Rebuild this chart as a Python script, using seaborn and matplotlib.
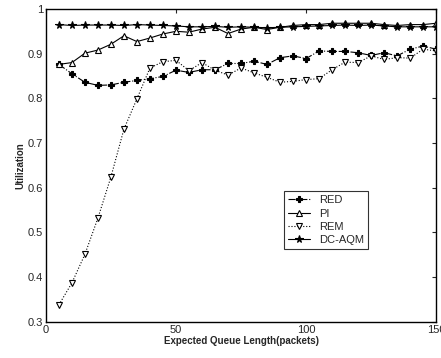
import numpy as np
import pandas as pd
import matplotlib
matplotlib.use("Agg")
import matplotlib.pyplot as plt
import seaborn as sns

# Expected queue length (packets)
queue_len = list(range(5, 155, 5))

red = [0.876, 0.855, 0.836, 0.829, 0.830, 0.836, 0.840, 0.844, 0.849, 0.863,
       0.858, 0.864, 0.864, 0.878, 0.878, 0.883, 0.876, 0.891, 0.895, 0.889,
       0.906, 0.905, 0.905, 0.902, 0.896, 0.902, 0.895, 0.910, 0.917, 0.910]
pi = [0.876, 0.880, 0.901, 0.908, 0.921, 0.940, 0.927, 0.935, 0.944, 0.950,
      0.948, 0.955, 0.959, 0.945, 0.955, 0.959, 0.954, 0.959, 0.963, 0.965,
      0.965, 0.968, 0.968, 0.968, 0.968, 0.965, 0.963, 0.965, 0.965, 0.968]
rem = [0.338, 0.387, 0.451, 0.532, 0.624, 0.731, 0.799, 0.868, 0.882, 0.885,
       0.862, 0.880, 0.863, 0.852, 0.868, 0.857, 0.847, 0.836, 0.838, 0.842,
       0.844, 0.864, 0.881, 0.880, 0.895, 0.887, 0.891, 0.890, 0.910, 0.906]
dcaqm = [0.965, 0.963, 0.964, 0.964, 0.964, 0.963, 0.965, 0.964, 0.963, 0.962,
         0.960, 0.960, 0.961, 0.959, 0.960, 0.959, 0.958, 0.959, 0.960, 0.961,
         0.962, 0.963, 0.964, 0.963, 0.964, 0.962, 0.960, 0.960, 0.960, 0.960]

series = {"RED": red, "PI": pi, "REM": rem, "DC-AQM": dcaqm}
styles = {
    "RED": dict(linestyle="-.", marker="P", markerfacecolor="black", markersize=4.5),
    "PI": dict(linestyle="-", marker="^", markerfacecolor="white", markersize=5),
    "REM": dict(linestyle=":", marker="v", markerfacecolor="white", markersize=5),
    "DC-AQM": dict(linestyle="-", marker="*", markerfacecolor="black", markersize=5.5),
}

sns.set_style("white")
plt.rcParams["font.family"] = ["Liberation Sans", "DejaVu Sans"]

fig = plt.figure(figsize=(4.41, 3.58), dpi=100)
ax = fig.add_axes([0.104, 0.101, 0.885, 0.874])

for name, vals in series.items():
    df = pd.DataFrame({"q": queue_len, "u": vals})
    sns.lineplot(data=df, x="q", y="u", ax=ax, color="black", linewidth=0.8,
                 markeredgecolor="black", markeredgewidth=0.8, label=name,
                 **styles[name])

ax.set_xlim(0, 150)
ax.set_ylim(0.3, 1.0)
ax.set_xticks([0, 50, 100, 150])
ax.set_yticks([0.3, 0.4, 0.5, 0.6, 0.7, 0.8, 0.9, 1.0])
ax.set_yticklabels(["0.3", "0.4", "0.5", "0.6", "0.7", "0.8", "0.9", "1"])
ax.tick_params(direction="in", length=3, labelsize=8, top=True, right=True,
               labeltop=False, labelright=False, pad=2)
for s in ax.spines.values():
    s.set_color("black")
    s.set_linewidth(1.0)

ax.set_xlabel("Expected Queue Length(packets)", fontsize=7, fontweight="bold", labelpad=1)
ax.set_ylabel("Utilization", fontsize=7, fontweight="bold", labelpad=2)

leg = ax.legend(loc="upper left", bbox_to_anchor=(0.595, 0.435), fontsize=8,
                frameon=True, fancybox=False, edgecolor="black",
                handlelength=2.0, borderpad=0.35, labelspacing=0.3)
leg.get_frame().set_linewidth(0.8)

fig.savefig("out.png", dpi=100)
